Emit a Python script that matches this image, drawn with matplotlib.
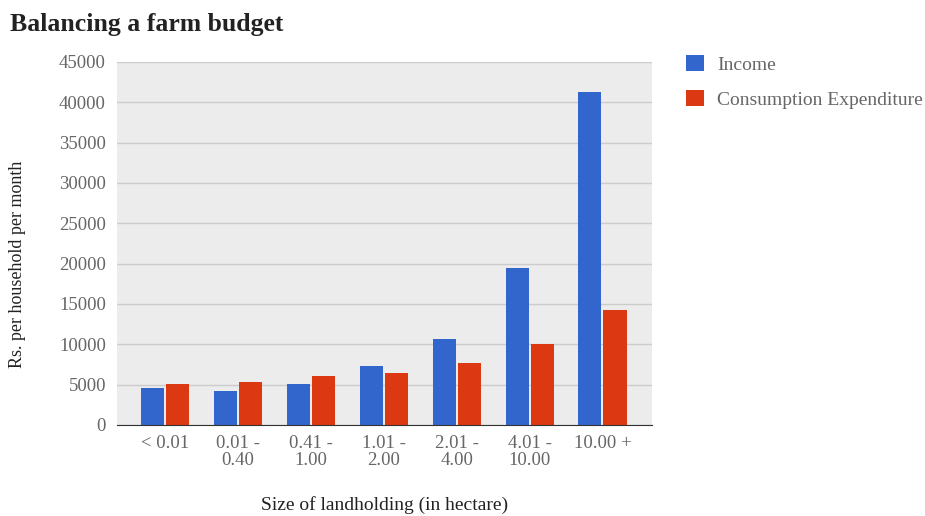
import numpy as np
import matplotlib.pyplot as plt

categories = ["< 0.01", "0.01 -\n0.40", "0.41 -\n1.00", "1.01 -\n2.00",
              "2.01 -\n4.00", "4.01 -\n10.00", "10.00 +"]
income = [4550, 4210, 5120, 7350, 10700, 19460, 41280]
expenditure = [5120, 5290, 6030, 6400, 7720, 10000, 14260]
yticks = np.arange(0, 45001, 5000)

plt.rcParams['font.family'] = ['Liberation Serif', 'DejaVu Serif']

fig = plt.figure(figsize=(9.25, 5.16), dpi=100)
ax = fig.add_axes([0.1265, 0.1764, 0.5784, 0.7036])
ax.set_facecolor('#ececec')

x = np.arange(len(categories))
w = 0.316
ax.bar(x - w/2 - 0.014, income, w, color='#3366cc', label='Income', zorder=3)
ax.bar(x + w/2 + 0.014, expenditure, w, color='#dc3912',
       label='Consumption Expenditure', zorder=3)

ax.set_xlim(-0.66, 6.68)
ax.set_ylim(0, 45000)
ax.set_yticks(yticks)
ax.set_yticklabels([str(v) for v in yticks])
ax.set_xticks(x)
ax.set_xticklabels(categories, linespacing=1.05)
ax.yaxis.grid(True, color='#cccccc', linewidth=1, zorder=0)
ax.tick_params(length=0, colors='#666666', labelsize=13.5, pad=8)
ax.tick_params(axis='x', pad=7)
for s in ['top', 'right', 'left']:
    ax.spines[s].set_visible(False)
ax.spines['bottom'].set_color('#333333')
ax.spines['bottom'].set_zorder(4)

# axis titles and chart title placed in figure pixels
fig.text(18 / 925, 1 - 264 / 516, 'Rs. per household per month', rotation=90,
         ha='center', va='center', fontsize=13, color='#222222')
fig.text(385 / 925, 1 - 505 / 516, 'Size of landholding (in hectare)',
         ha='center', va='center', fontsize=14, color='#222222')
fig.text(0.011, 0.94, 'Balancing a farm budget', fontsize=18.5, fontweight='bold',
         color='#222222')

fig.legend(loc='upper left', bbox_to_anchor=(686 / 925, 1 - 55 / 516),
           bbox_transform=fig.transFigure, frameon=False, borderpad=0,
           borderaxespad=0, fontsize=14, handlelength=0.9, handleheight=0.9,
           labelspacing=0.85, handletextpad=0.7, labelcolor='#666666')

fig.savefig('out.png', dpi=100)
